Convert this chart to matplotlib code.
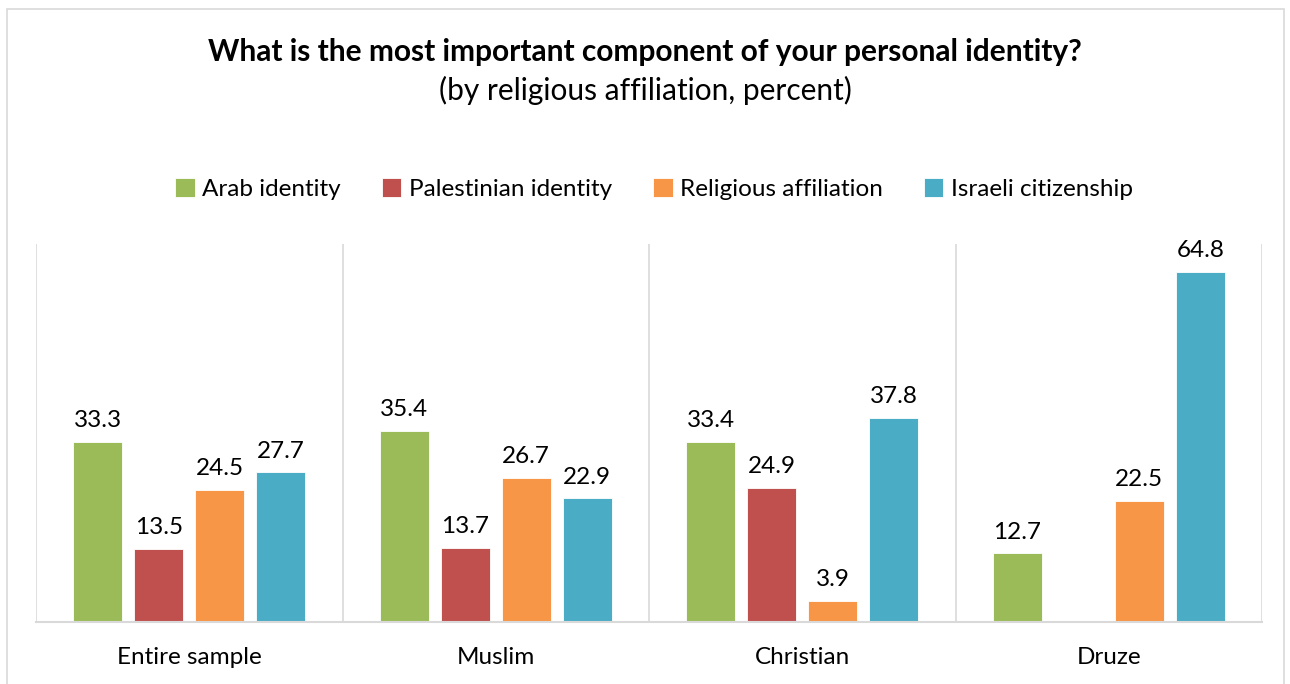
import numpy as np
import matplotlib.pyplot as plt
from matplotlib.patches import Rectangle

plt.rcParams['font.family'] = ['Lato', 'DejaVu Sans']

groups = ['Entire sample', 'Muslim', 'Christian', 'Druze']
series = ['Arab identity', 'Palestinian identity', 'Religious affiliation', 'Israeli citizenship']
arab = [33.3, 35.4, 33.4, 12.7]
palestinian = [13.5, 13.7, 24.9, np.nan]
religious = [24.5, 26.7, 3.9, 22.5]
israeli = [27.7, 22.9, 37.8, 64.8]
colors = ['#9BBB59', '#C0504D', '#F79646', '#4BACC6']

W, H = 1290, 684
fig = plt.figure(figsize=(W / 100, H / 100), dpi=100)
fig.patches.append(Rectangle((7 / W, -0.01), (1284 - 7) / W, 1 - 9 / H + 0.01,
                             transform=fig.transFigure, fill=False,
                             edgecolor='#D9D9D9', linewidth=1.2))

ax = fig.add_axes([36 / W, 1 - 622 / H, (1262 - 36) / W, (622 - 244) / H])
x = np.arange(len(groups))
step, width = 0.199, 0.16
for i, (vals, name) in enumerate(zip([arab, palestinian, religious, israeli], series)):
    pos = x + (i - 1.5) * step
    ax.bar(pos, vals, width, color=colors[i], label=name,
           edgecolor='white', linewidth=0.6)
    for p, v in zip(pos, vals):
        if not np.isnan(v):
            ax.text(p, v + 2.0, f'{v:.1f}', ha='center', va='bottom', fontsize=17.5)

ax.set_xlim(-0.5, len(groups) - 0.5)
ax.set_ylim(0, 70)
ax.set_yticks([])
ax.set_xticks(x)
ax.set_xticklabels(groups, fontsize=17.5)
ax.tick_params(axis='x', length=0, pad=18)
for s in ['top', 'right', 'left']:
    ax.spines[s].set_visible(False)
ax.spines['bottom'].set_color('#D9D9D9')
ax.spines['bottom'].set_linewidth(1.5)
for b in np.arange(-0.5, len(groups), 1.0):
    ax.axvline(b, color='#D9D9D9', linewidth=1.2, zorder=0)

fig.text(0.5, 1 - 52 / H, 'What is the most important component of your personal identity?',
         ha='center', va='center', fontsize=21.5, fontweight='bold')
fig.text(0.5, 1 - 90 / H, '(by religious affiliation, percent)',
         ha='center', va='center', fontsize=21.5)

fig.legend(loc='center', bbox_to_anchor=(654 / W, 1 - 189 / H), ncol=4, frameon=False,
           fontsize=17.5, handlelength=0.8, handleheight=0.8, handletextpad=0.3,
           columnspacing=1.7)

fig.savefig('out.png', dpi=100)
